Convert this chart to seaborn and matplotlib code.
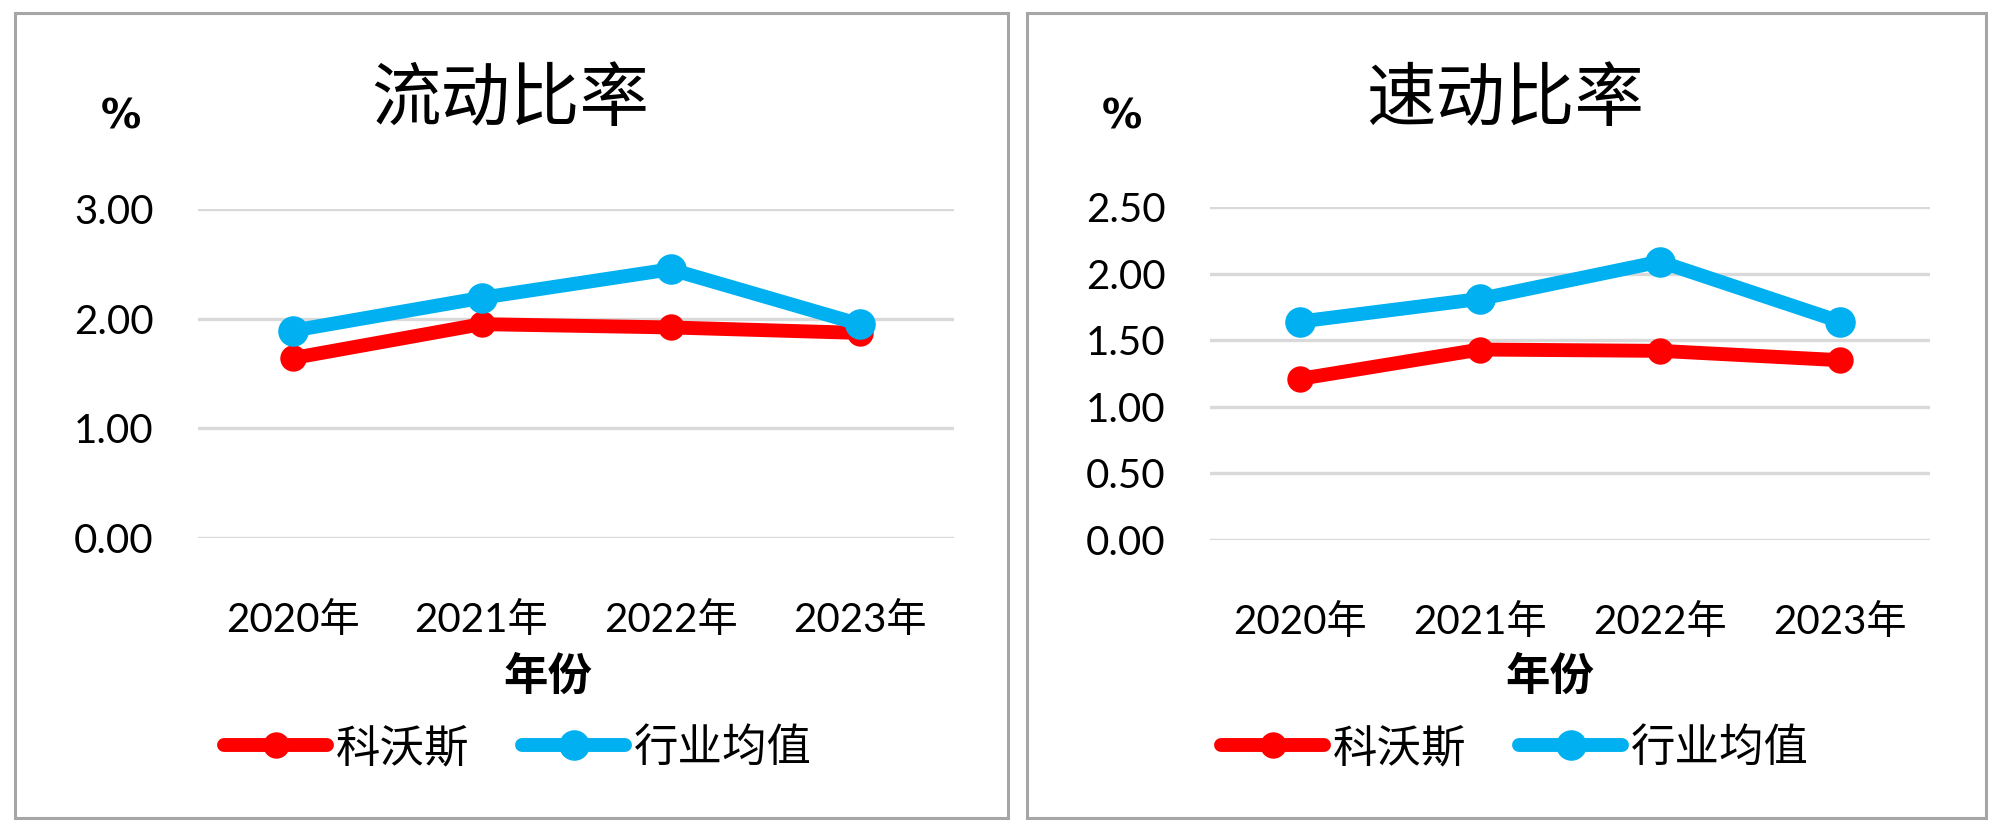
from matplotlib import pyplot as plt
from matplotlib.patches import Rectangle
import seaborn as sns
import pandas as pd

# data
years = ["2020年", "2021年", "2022年", "2023年"]
series_names = ["科沃斯", "行业均值"]

current_ecovacs = [1.64, 1.95, 1.92, 1.87]
current_industry = [1.89, 2.19, 2.45, 1.95]
quick_ecovacs = [1.21, 1.43, 1.42, 1.35]
quick_industry = [1.64, 1.81, 2.09, 1.64]

current_ticks = [0.0, 1.0, 2.0, 3.0]
quick_ticks = [0.0, 0.5, 1.0, 1.5, 2.0, 2.5]

sns.set_theme(style="white")
plt.rcParams["font.family"] = ["Lato", "Noto Sans CJK SC", "DejaVu Sans"]
plt.rcParams["text.color"] = "black"

red = "#FF0000"
blue = "#00B0F0"
grid_col = "#D9D9D9"
border_col = "#A6A6A6"

fig = plt.figure(figsize=(20, 8.3), dpi=100)

# panel borders
fig.patches.append(Rectangle((0.0075, 0.0145), 0.4965, 0.97, transform=fig.transFigure,
                             fill=False, edgecolor=border_col, linewidth=2.2))
fig.patches.append(Rectangle((0.5135, 0.0145), 0.4795, 0.97, transform=fig.transFigure,
                             fill=False, edgecolor=border_col, linewidth=2.2))

ax1 = fig.add_axes([0.099, 0.3518, 0.378, 0.3964])
ax2 = fig.add_axes([0.605, 0.3494, 0.36, 0.4012])


def draw_panel(ax, comp, ind, ticks):
    df = pd.DataFrame({"年份": years * 2,
                       "值": comp + ind,
                       "系列": [series_names[0]] * 4 + [series_names[1]] * 4})
    sns.lineplot(data=df[df["系列"] == series_names[0]], x="年份", y="值", ax=ax,
                 color=red, linewidth=10, marker="o", markersize=19,
                 markeredgewidth=0, label=series_names[0], legend=False, sort=False)
    sns.lineplot(data=df[df["系列"] == series_names[1]], x="年份", y="值", ax=ax,
                 color=blue, linewidth=10, marker="o", markersize=22,
                 markeredgewidth=0, label=series_names[1], legend=False, sort=False)
    ax.set_xlim(-0.5, 3.5)
    ax.set_ylim(ticks[0], ticks[-1])
    ax.set_yticks(ticks)
    ax.set_yticklabels([f"{t:.2f}" for t in ticks])
    ax.yaxis.grid(True, color=grid_col, linewidth=2.4)
    ax.set_axisbelow(True)
    for s in ax.spines.values():
        s.set_visible(False)
    ax.tick_params(axis="y", length=0, pad=32, labelsize=29, labelcolor="black")
    ax.tick_params(axis="x", length=0, pad=46, labelsize=29, labelcolor="black")
    ax.set_xlabel("")
    ax.set_ylabel("")
    ax.patch.set_alpha(0)


draw_panel(ax1, current_ecovacs, current_industry, current_ticks)
draw_panel(ax2, quick_ecovacs, quick_industry, quick_ticks)

# titles, unit marks, axis names
fig.text(0.255, 0.8795, "流动比率", ha="center", va="center", fontsize=50)
fig.text(0.7525, 0.8795, "速动比率", ha="center", va="center", fontsize=50)
for x in [0.0605, 0.561]:
    fig.text(x, 0.859, "%", ha="center", va="center", fontsize=29,
             fontweight="bold", family=["DejaVu Sans"])
fig.text(0.274, 1 - 676 / 830, "年份", ha="center", va="center", fontsize=32, fontweight="bold")
fig.text(0.775, 1 - 676 / 830, "年份", ha="center", va="center", fontsize=32, fontweight="bold")

# legends
for ax, cx in [(ax1, 0.259), (ax2, 0.7575)]:
    h, l = ax.get_legend_handles_labels()
    fig.legend(h, l, loc="center", bbox_to_anchor=(cx, 1 - 748 / 830), ncol=2,
               frameon=False, fontsize=32, handlelength=2.3, handletextpad=0.2,
               columnspacing=1.2)

plt.savefig("out.png", dpi=100)
